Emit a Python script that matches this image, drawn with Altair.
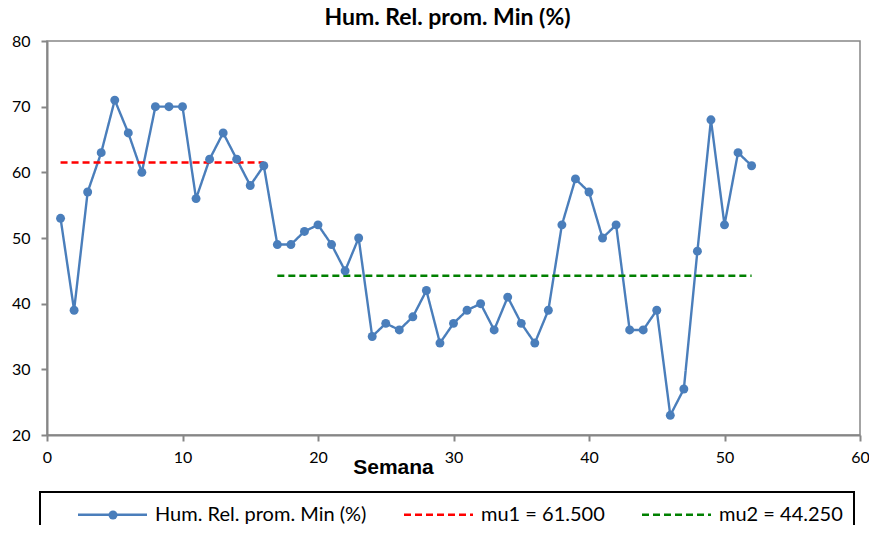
import altair as alt
import pandas as pd

semanas = list(range(1, 53))
humedad = [53, 39, 57, 63, 71, 66, 60, 70, 70, 70, 56, 62, 66, 62, 58, 61,
           49, 49, 51, 52, 49, 45, 50, 35, 37, 36, 38, 42, 34, 37, 39, 40,
           36, 41, 37, 34, 39, 52, 59, 57, 50, 52, 36, 36, 39, 23, 27, 48,
           68, 52, 63, 61]
mu1_semanas = [1, 16]
mu1 = 61.5
mu2_semanas = [17, 52]
mu2 = 44.25

series = ["Hum. Rel. prom. Min (%)", "mu1 = 61.500", "mu2 = 44.250"]
colores = ["#4A7EBB", "#FF0000", "#008000"]
guiones = [[1, 0], [7, 4], [7, 4]]

rows = []
for s, h in zip(semanas, humedad):
    rows.append({"Semana": s, "valor": h, "serie": series[0], "punto": series[0]})
for s in mu1_semanas:
    rows.append({"Semana": s, "valor": mu1, "serie": series[1], "punto": series[1]})
for s in mu2_semanas:
    rows.append({"Semana": s, "valor": mu2, "serie": series[2], "punto": series[2]})
df = pd.DataFrame(rows)

FONT = "Lato, Carlito, Calibri, sans-serif"
GRAY = "#868686"

x = alt.X("Semana:Q",
          scale=alt.Scale(domain=[0, 60], nice=False),
          axis=alt.Axis(values=list(range(0, 61, 10)), title="Semana",
                        titleFont="Liberation Sans", titleFontSize=21,
                        titleFontWeight="bold", titleX=346, titleY=38,
                        titleBaseline="alphabetic", titleAlign="center",
                        titleAnchor="start", labelPadding=8, labelFlush=False))
y = alt.Y("valor:Q",
          scale=alt.Scale(domain=[20, 80], nice=False),
          axis=alt.Axis(values=list(range(20, 81, 10)), title=None,
                        labelPadding=11, labelFlush=False))

main_legend = alt.Legend()

color = alt.Color("serie:N", scale=alt.Scale(domain=series, range=colores),
                  title=None, legend=main_legend)
dash = alt.StrokeDash("serie:N", scale=alt.Scale(domain=series, range=guiones),
                      title=None, legend=main_legend)

lines = alt.Chart(df).mark_line(strokeWidth=2.4).encode(
    x=x, y=y, color=color, strokeDash=dash, detail="serie:N")

dot_legend = alt.Legend(
    orient="none", legendX=61.5, legendY=469.5, padding=0,
    strokeColor="transparent", symbolType="circle", symbolSize=80,
    symbolOffset=0, symbolFillColor="#4A7EBB", symbolStrokeWidth=0,
    labelExpr="''", labelFontSize=2, labelOffset=0, title=None)

points = alt.Chart(df).transform_filter(
    alt.datum.serie == series[0]
).mark_point(filled=True, size=80, opacity=1, color="#4A7EBB").encode(
    x=x, y=y,
    shape=alt.Shape("punto:N", scale=alt.Scale(domain=[series[0]], range=["circle"]),
                    legend=dot_legend))

chart = alt.layer(lines, points).properties(
    width=813, height=394,
    autosize="none",
    padding={"left": 39, "top": 33, "right": 9, "bottom": 90},
    title=alt.Title("Hum. Rel. prom. Min (%)", font=FONT, fontSize=23,
                    fontWeight="bold", anchor="middle", offset=8, dx=-6, dy=5),
).configure_view(
    stroke=GRAY, strokeWidth=1.5
).configure_axis(
    grid=False, domainColor=GRAY, domainWidth=2, tickColor=GRAY, tickWidth=2,
    tickSize=6, labelFont=FONT, labelFontSize=16, labelColor="black"
).configure_legend(
    orient="none", legendX=-7, legendY=451, direction="horizontal", columns=3,
    strokeColor="black", strokeWidth=2, padding=11,
    symbolType="M-3.45,0L3.45,0", symbolSize=400, symbolStrokeWidth=2.5,
    symbolOffset=50, labelOffset=31, columnPadding=10,
    labelFont=FONT, labelFontSize=20, labelColor="black", labelLimit=400
)

chart.save("out.html", embed_options={"renderer": "svg", "actions": False})
